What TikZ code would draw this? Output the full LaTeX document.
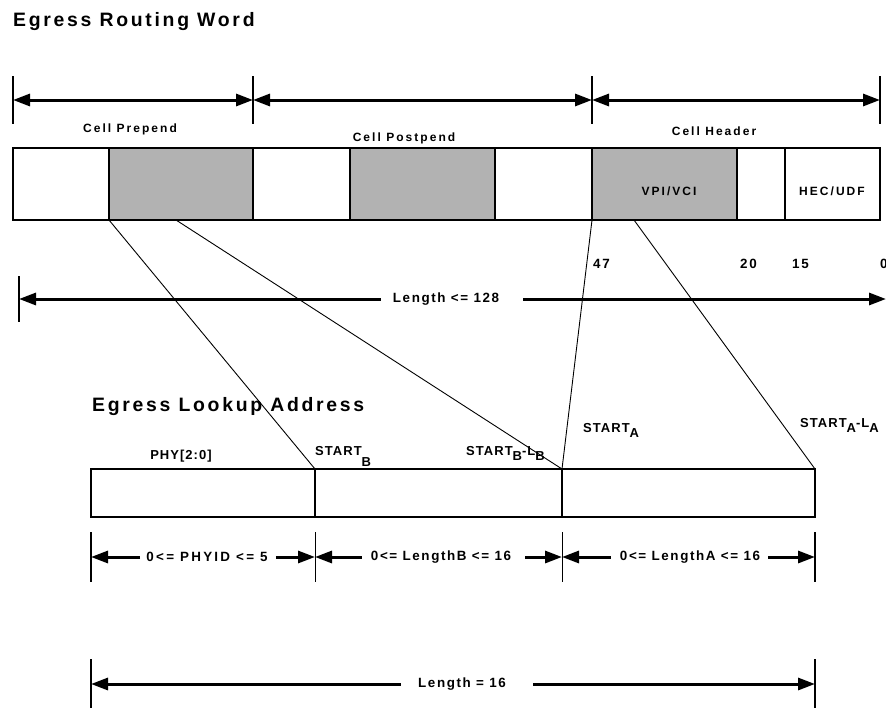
\documentclass[tikz,border=0pt]{standalone}
\usepackage{fontspec}
\setmainfont{Liberation Sans}
\newfontfamily\ftitle{Liberation Sans}[UprightFont=* Bold,LetterSpace=14]
\newfontfamily\fcell{Liberation Sans}[UprightFont=* Bold,LetterSpace=17]
\newfontfamily\fdim{Liberation Sans}[UprightFont=* Bold,LetterSpace=12]
\newfontfamily\fstart{Liberation Sans}[UprightFont=* Bold,LetterSpace=8]
\usetikzlibrary{arrows.meta}
\definecolor{cellgray}{RGB}{178,178,178}
\begin{document}
\begin{tikzpicture}[x=1pt,y=-1pt,
  cell/.style={draw,line width=1.2pt,inner sep=0pt,outer sep=0pt,minimum height=72pt,anchor=north west},
  gcell/.style={cell,fill=cellgray},
  lcell/.style={draw,line width=1.2pt,inner sep=0pt,outer sep=0pt,minimum height=48pt,anchor=north west},
  dimarrow/.style={line width=3pt,-{Triangle[length=17pt,width=12pt]}},
  dimboth/.style={line width=3pt,{Triangle[length=17pt,width=12pt]}-{Triangle[length=17pt,width=12pt]}},
  tickmark/.style={line width=1.8pt},
  thintick/.style={line width=1pt},
  diag/.style={line width=0.9pt},
  title/.style={font=\ftitle\fontsize{19.4}{22}\selectfont,inner sep=0pt,anchor=base west},
  celltext/.style={font=\fcell\fontsize{12}{14}\selectfont,inner sep=0pt,anchor=base},
  dimtext/.style={font=\fdim\fontsize{13.4}{15}\selectfont,inner sep=0pt},
  starttext/.style={font=\fstart\fontsize{13}{15}\selectfont,inner sep=0pt,anchor=base west},
]
\useasboundingbox (0,0) rectangle (886,707);

% titles
\node[title] (t1) at (13,26) {Egress Routing Word};
\node[title] (t2) at (92,411) {Egress Lookup Address};

% top cells
\node[cell,minimum width=96pt] (c1) at (13,148) {};
\node[gcell,minimum width=144pt] (c2) at (109,148) {};
\node[cell,minimum width=97pt] (c3) at (253,148) {};
\node[gcell,minimum width=145pt] (c4) at (350,148) {};
\node[cell,minimum width=97pt] (c5) at (495,148) {};
\node[gcell,minimum width=145pt] (c6) at (592,148) {};
\node[cell,minimum width=48pt] (c7) at (737,148) {};
\node[cell,minimum width=95pt] (c8) at (785,148) {};
\draw[line width=2pt] (c1.north west) rectangle (c8.south east);

\node[celltext] (prep) at (130,132) {Cell Prepend};
\node[celltext] (postp) at (404,141) {Cell Postpend};
\node[celltext] (hdr) at (714,135) {Cell Header};
\node[celltext] (vpi) at (669,195) {VPI/VCI};
\node[celltext] (hec) at (832,195) {HEC/UDF};

% top dimension arrows
\coordinate (a0) at (13,100);
\coordinate (a1) at (253,100);
\coordinate (a2) at (592,100);
\coordinate (a3) at (880,100);
\foreach \p in {a0,a1,a2,a3} \draw[tickmark] (\p) ++(0,-24) -- ++(0,48);
\draw[dimboth] (a0) -- (a1);
\draw[dimboth] (a1) -- (a2);
\draw[dimboth] (a2) -- (a3);

% bit numbers
\node[dimtext,anchor=base west] (n47) at (593,268) {47};
\node[dimtext,anchor=base west] (n20) at (740,268) {20};
\node[dimtext,anchor=base west] (n15) at (792,268) {15};
\node[dimtext,anchor=base west] (n0) at (880,268) {0};

% length <= 128
\coordinate (l0) at (19,299);
\coordinate (l1) at (886,299);
\draw[tickmark] (l0) ++(0,-23) -- ++(0,46);
\node[dimtext] (len128) at (446,299) {Length <= 128};
\draw[dimarrow] ([xshift=-12pt]len128.west) -- (l0);
\draw[dimarrow] ([xshift=24pt]len128.east) -- (l1);

% bottom cells
\node[lcell,minimum width=224pt] (b1) at (91,469) {};
\node[lcell,minimum width=247pt] (b2) at (315,469) {};
\node[lcell,minimum width=253pt] (b3) at (562,469) {};
\draw[line width=2pt] (b1.north west) -- (b3.north east);
\draw[line width=2pt] (b2.north east) -- (b2.south east);

\node[starttext,anchor=base] (phy) at (181,459) {PHY[2:0]};
\node[starttext] (sb) at (315,455) {START\raisebox{-11pt}{B}};
\node[starttext] (sbl) at (466,455) {START\raisebox{-5pt}{B}-L\raisebox{-5pt}{B}};
\node[starttext] (sa) at (583,432) {START\raisebox{-5pt}{A}};
\node[starttext] (sal) at (800,427) {START\raisebox{-5pt}{A}-L\raisebox{-5pt}{A}};

% diagonals
\coordinate (p1) at (176,220);
\coordinate (p2) at (634,220);
\draw[diag] (c2.south west) -- (b1.north east);
\draw[diag] (p1) -- (b2.north east);
\draw[diag] (c6.south west) -- (b2.north east);
\draw[diag] (p2) -- (b3.north east);

% bottom dimension row
\coordinate (r0) at (91,557);
\coordinate (r1) at (315,557);
\coordinate (r2) at (562,557);
\coordinate (r3) at (815,557);
\draw[tickmark] (r0) ++(0,-25) -- ++(0,50);
\draw[thintick] (r1) ++(0,-25) -- ++(0,50);
\draw[thintick] (r2) ++(0,-25) -- ++(0,50);
\draw[tickmark] (r3) ++(0,-25) -- ++(0,50);
\node[dimtext,font=\fdim\fontsize{13.4}{15}\selectfont\addfontfeature{LetterSpace=17}] (phyid) at (207,557) {0<= PHYID <= 5};
\node[dimtext] (lenb) at (441,557) {0<= LengthB <= 16};
\node[dimtext] (lena) at (690,557) {0<= LengthA <= 16};
\draw[dimarrow] ([xshift=-6pt]phyid.west) -- (r0);
\draw[dimarrow] ([xshift=8pt]phyid.east) -- (r1);
\draw[dimarrow] ([xshift=-9pt]lenb.west) -- (r1);
\draw[dimarrow] ([xshift=14pt]lenb.east) -- (r2);
\draw[dimarrow] ([xshift=-9pt]lena.west) -- (r2);
\draw[dimarrow] ([xshift=8pt]lena.east) -- (r3);

% length = 16
\coordinate (s0) at (91,684);
\coordinate (s1) at (815,684);
\draw[tickmark] (s0) ++(0,-25) -- ++(0,50);
\draw[tickmark] (s1) ++(0,-25) -- ++(0,50);
\node[dimtext] (len16) at (462,684) {Length = 16};
\draw[dimarrow] ([xshift=-17pt]len16.west) -- (s0);
\draw[dimarrow] ([xshift=27pt]len16.east) -- (s1);
\end{tikzpicture}
\end{document}
